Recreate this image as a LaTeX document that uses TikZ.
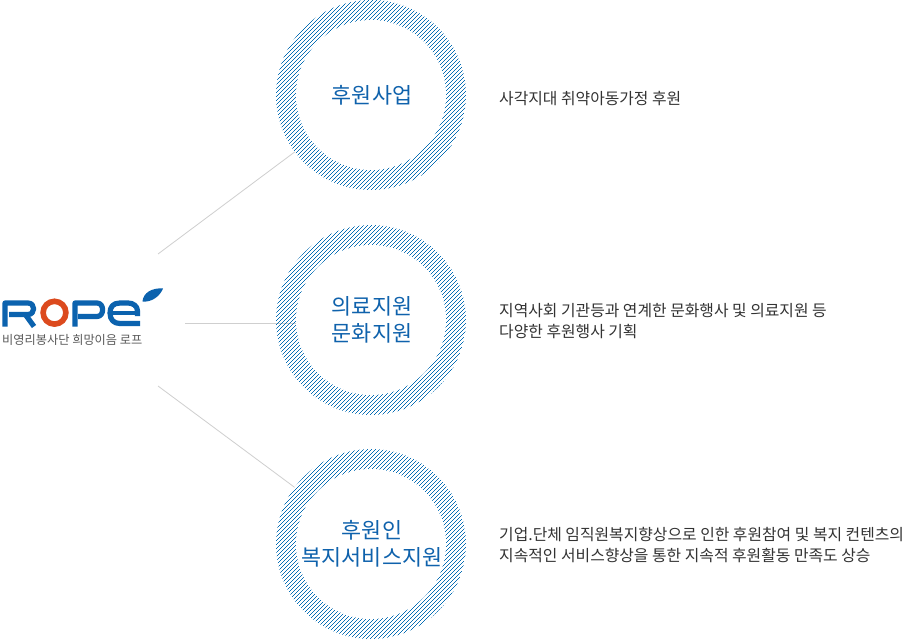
\documentclass[tikz,border=0pt]{standalone}
\usepackage{fontspec}
\setmainfont{Noto Sans CJK KR}
\definecolor{ringblue}{HTML}{0A6FB5}
\definecolor{labelblue}{HTML}{0F62AC}
\definecolor{logoblue}{HTML}{0B62AE}
\definecolor{logoorange}{HTML}{DC4A1E}
\definecolor{linegrey}{HTML}{CFCFCF}
\definecolor{bodytext}{HTML}{333333}
\pgfdeclarelayer{under}
\pgfsetlayers{under,main}
\newcommand{\ringhatch}[1]{%
  \begin{scope}
    \clip (#1.center) circle[radius=95];
    \foreach \x in {275,...,467}{
      \pgfmathtruncatemacro\ph{mod(\x,4)}
      \draw[hatchline] ({\x+0.5},{-\ph}) -- ({\x+0.5},640);
    }
  \end{scope}}
\begin{document}
\begin{tikzpicture}[x=1pt,y=-1pt,
  ring/.style={circle,minimum size=190pt,inner sep=0pt},
  hatchline/.style={ringblue,line width=1pt,dash pattern=on 1pt off 3pt},
  hole/.style={circle,fill=white,minimum size=150pt,inner sep=0pt,align=center,text=labelblue,
    font=\fontsize{21.8}{26.5}\selectfont},
  connector/.style={draw=linegrey,line width=0.8pt},
  desc/.style={anchor=west,inner sep=0pt,align=left,text=bodytext,font=\fontsize{15.85}{21}\selectfont},
  logostroke/.style={draw=logoblue,line width=5.2pt,line join=round}]
\useasboundingbox (0,0) rectangle (904,639);
\coordinate (c1) at (158,254);
\coordinate (c2) at (185,323);
\coordinate (c3) at (158,386);

\node[ring] (r1) at (371,95) {};
\node[ring] (r2) at (371,320) {};
\node[ring] (r3) at (371,544) {};
\ringhatch{r1}
\ringhatch{r2}
\ringhatch{r3}
\node[hole] (t1) at (r1) {\raisebox{-2pt}{\hspace{2pt}후원사업}};
\node[hole] (t2) at (r2) {\raisebox{-2pt}{\hspace{2pt}의료지원}\\\raisebox{-2pt}{\hspace{2pt}문화지원}};
\node[hole] (t3) at (r3) {\raisebox{-1pt}{\hspace{2pt}후원인}\\\raisebox{-1pt}{\hspace{2pt}복지서비스지원}};

\begin{pgfonlayer}{under}
\fill[white] (0,0) rectangle (904,639);
\draw[connector] (c2) -- (c2 -| t2.west);
\end{pgfonlayer}
\draw[connector] (c1) -- (r1);
\draw[connector] (c3) -- (r3);

\node[desc] (d1) at (499,98.5) {사각지대 취약아동가정 후원};
\node[desc] (d2) at (499,321.5) {지역사회 기관등과 연계한 문화행사 및 의료지원 등\\다양한 후원행사 기획};
\node[desc] (d3) at (499,545) {기업.단체 임직원복지향상으로 인한 후원참여 및 복지 컨텐츠의\\지속적인 서비스향상을 통한 지속적 후원활동 만족도 상승};

% logo
\draw[logostroke] (5,326.5) -- (5,303) -- (28,303) .. controls (35.5,303) and (35.5,314.5) .. (28,314.5) -- (9,314.5);
\draw[logostroke] (25,314) -- (34,326.5);
\draw[draw=logoorange,line width=5.6pt] (54.5,312.7) circle[radius=11.4];
\draw[logostroke] (75,326.5) -- (75,303) -- (97,303) .. controls (104.5,303) and (104.5,316.5) .. (97,316.5) -- (78,316.5);
\draw[logostroke] (137.5,316) -- (137.5,311) .. controls (137.5,306) and (133,303) .. (128,303) -- (120,303)
   .. controls (113,303) and (110,307) .. (110,313) .. controls (110,320) and (114,323.5) .. (120,323.5) -- (140,323.5);
\draw[logostroke,line width=4.4pt] (112,313) -- (137,313);
\fill[logoblue] (142.5,301.5) .. controls (143,293) and (152,287.5) .. (163,288.5)
   .. controls (160,296) and (152,302.5) .. (142.5,301.5);
\node[anchor=west,inner sep=0pt,text=black!65,font=\fontsize{12.2}{14}\selectfont] (logotext) at (2,339.5) {비영리봉사단 희망이음 로프};
\end{tikzpicture}
\end{document}
